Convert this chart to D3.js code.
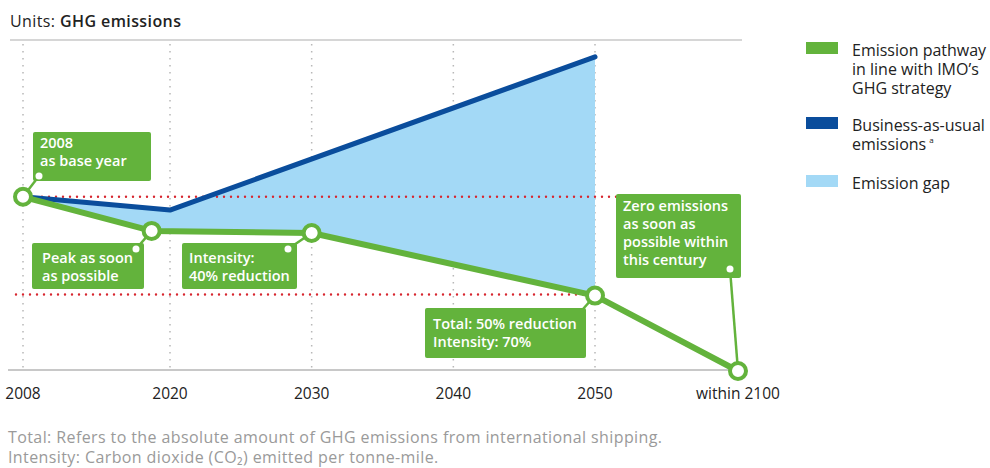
<!DOCTYPE html>
<html>
<head>
<meta charset="utf-8">
<script src="https://cdn.jsdelivr.net/npm/d3@7"></script>
<style>
  body { margin: 0; background: #fff; }
  text { font-family: "Open Sans", sans-serif; }
</style>
</head>
<body>
<script>
// categorie dell'asse x e valori (indice GHG, 2008 = 100)
var tickYears = [2008, 2020, 2030, 2040, 2050, 2100];
var tickLabels = ["2008", "2020", "2030", "2040", "2050", "within 2100"];
var gridYears = [2008, 2020, 2030, 2040, 2050];

var pathwayYears = [2008, 2018.5, 2030, 2050, 2100];
var pathwayValues = [100, 80.4, 79.2, 43.3, 0];

var bauYears = [2008, 2020, 2050];
var bauValues = [100, 92.4, 180.3];

var legendLabels = ["Emission pathway|in line with IMO\u2019s|GHG strategy", "Business-as-usual|emissions", "Emission gap"];

var notes = [
  "Total: Refers to the absolute amount of GHG emissions from international shipping.",
  "Intensity: Carbon dioxide (CO\u2082) emitted per tonne-mile."
];

var green = "#63b33c", navy = "#0a4d9c", sky = "#a3d9f6", red = "#d7262f";

var width = 990, height = 468;

var svg = d3.select("body").append("svg")
    .attr("width", width)
    .attr("height", height);

// scala a tratti: la distanza 2008-2020 e' disegnata piu' stretta
var x = d3.scaleLinear()
    .domain([2008, 2020, 2050, 2100])
    .range([23, 170, 595, 738]);

var y = d3.scaleLinear()
    .domain([0, 190])
    .range([371, 40]);

var pathway = pathwayYears.map(function (d, i) { return {year: d, v: pathwayValues[i]}; });
var bau = bauYears.map(function (d, i) { return {year: d, v: bauValues[i]}; });

// titolo
var title = svg.append("text").attr("x", 10).attr("y", 27)
    .attr("font-size", 16).attr("letter-spacing", 0.4).attr("fill", "#222");
title.append("tspan").text("Units: ");
title.append("tspan").attr("font-weight", 600).text("GHG emissions");

// linea superiore
svg.append("line")
    .attr("x1", 10).attr("x2", 742)
    .attr("y1", y(190)).attr("y2", y(190))
    .attr("stroke", "#c8c8c8").attr("stroke-width", 1.5);

// griglia verticale punteggiata
svg.selectAll(".grid").data(gridYears).enter().append("line")
    .attr("class", "grid")
    .attr("x1", function (d) { return x(d); })
    .attr("x2", function (d) { return x(d); })
    .attr("y1", y(190) + 4).attr("y2", y(0) - 2)
    .attr("stroke", "#b8b8b8").attr("stroke-width", 1.5)
    .attr("stroke-dasharray", "1.5 5.5");

// area del gap tra business-as-usual e percorso IMO
var gapPts = bau.concat(pathway.filter(function (d) { return d.year <= 2050; }).reverse());
svg.append("path")
    .attr("d", d3.line().x(function (d) { return x(d.year); }).y(function (d) { return y(d.v); })(gapPts) + "Z")
    .attr("fill", sky);

// linee rosse di riferimento
svg.append("line")
    .attr("x1", 42).attr("x2", 742)
    .attr("y1", y(100)).attr("y2", y(100))
    .attr("stroke", red).attr("stroke-width", 2.4)
    .attr("stroke-linecap", "round").attr("stroke-dasharray", "0 7");
svg.append("line")
    .attr("x1", 16).attr("x2", x(2050) - 8)
    .attr("y1", y(pathwayValues[3]) - 1).attr("y2", y(pathwayValues[3]) - 1)
    .attr("stroke", red).attr("stroke-width", 2.4)
    .attr("stroke-linecap", "round").attr("stroke-dasharray", "0 7");

// asse x
svg.append("line")
    .attr("x1", 8).attr("x2", 740)
    .attr("y1", 370).attr("y2", 370)
    .attr("stroke", "#c8c8c8").attr("stroke-width", 2);

svg.selectAll(".tick").data(tickYears).enter().append("text")
    .attr("class", "tick")
    .attr("x", function (d) { return x(d); })
    .attr("y", 399)
    .attr("text-anchor", "middle")
    .attr("font-size", 15.5)
    .attr("fill", "#222")
    .text(function (d, i) { return tickLabels[i]; });

var line = d3.line().x(function (d) { return x(d.year); }).y(function (d) { return y(d.v); });

svg.append("path")
    .attr("d", line(bau))
    .attr("fill", "none").attr("stroke", navy)
    .attr("stroke-width", 5).attr("stroke-linecap", "round").attr("stroke-linejoin", "round");

svg.append("path")
    .attr("d", line(pathway))
    .attr("fill", "none").attr("stroke", green)
    .attr("stroke-width", 6).attr("stroke-linejoin", "round");

// annotazioni: box verdi con testo bianco
var annotations = [
  {pt: 0, box: [33, 132, 118, 49], dot: [39, 176], lines: ["2008", "as base year"], pad: 7, base: 16},
  {pt: 1, box: [32, 243, 112, 46], dot: [136, 249], lines: ["Peak as soon", "as possible"], pad: 10, base: 20},
  {pt: 2, box: [182, 243, 115, 46], dot: [288, 249], lines: ["Intensity:", "40% reduction"], pad: 7, base: 20},
  {pt: 3, box: [425, 308, 161, 50], dot: [583, 309], lines: ["Total: 50% reduction", "Intensity: 70%"], pad: 8, base: 21, noDot: true},
  {pt: 4, box: [616, 194, 125, 84], dot: [730, 269], lines: ["Zero emissions", "as soon as", "possible within", "this century"], pad: 7, base: 17}
];

annotations.forEach(function (a) {
  var p = pathway[a.pt];
  svg.append("line")
      .attr("x1", a.dot[0]).attr("y1", a.dot[1])
      .attr("x2", x(p.year)).attr("y2", y(p.v))
      .attr("stroke", green).attr("stroke-width", 2.5);
});

svg.selectAll(".node").data(pathway).enter().append("circle")
    .attr("class", "node")
    .attr("cx", function (d) { return x(d.year); })
    .attr("cy", function (d) { return y(d.v); })
    .attr("r", 8)
    .attr("fill", "#fff").attr("stroke", green).attr("stroke-width", 4);

annotations.forEach(function (a) {
  var g = svg.append("g");
  g.append("rect")
      .attr("x", a.box[0]).attr("y", a.box[1])
      .attr("width", a.box[2]).attr("height", a.box[3])
      .attr("rx", 2).attr("fill", green);
  var txt = g.append("text")
      .attr("font-size", 14.5).attr("font-weight", 600)
      .attr("fill", "#fff");
  a.lines.forEach(function (t, i) {
    txt.append("tspan")
        .attr("x", a.box[0] + a.pad)
        .attr("y", a.box[1] + a.base + i * 18)
        .text(t);
  });
  if (!a.noDot) {
    g.append("circle").attr("cx", a.dot[0]).attr("cy", a.dot[1]).attr("r", 3.5).attr("fill", "#fff");
  }
});

// legenda
var legendColors = [green, navy, sky];
var legendTop = [42, 117, 175];
legendLabels.forEach(function (l, i) {
  svg.append("rect")
      .attr("x", 806).attr("y", legendTop[i])
      .attr("width", 32).attr("height", 12)
      .attr("fill", legendColors[i]);
  var t = svg.append("text")
      .attr("font-size", 16).attr("fill", "#222");
  l.split("|").forEach(function (r, j) {
    t.append("tspan")
        .attr("x", 852).attr("y", legendTop[i] + 13.5 + j * 19)
        .text(r);
    if (i === 1 && j === 1) {
      t.append("tspan").attr("dx", 3).attr("dy", -7).attr("font-size", 8).text("a");
    }
  });
});

// note a pie' di pagina
notes.forEach(function (n, i) {
  svg.append("text")
      .attr("x", 8).attr("y", 443 + i * 20)
      .attr("font-size", 16).attr("letter-spacing", 0.4).attr("fill", "#9a9a9a")
      .text(n);
});
</script>
</body>
</html>
